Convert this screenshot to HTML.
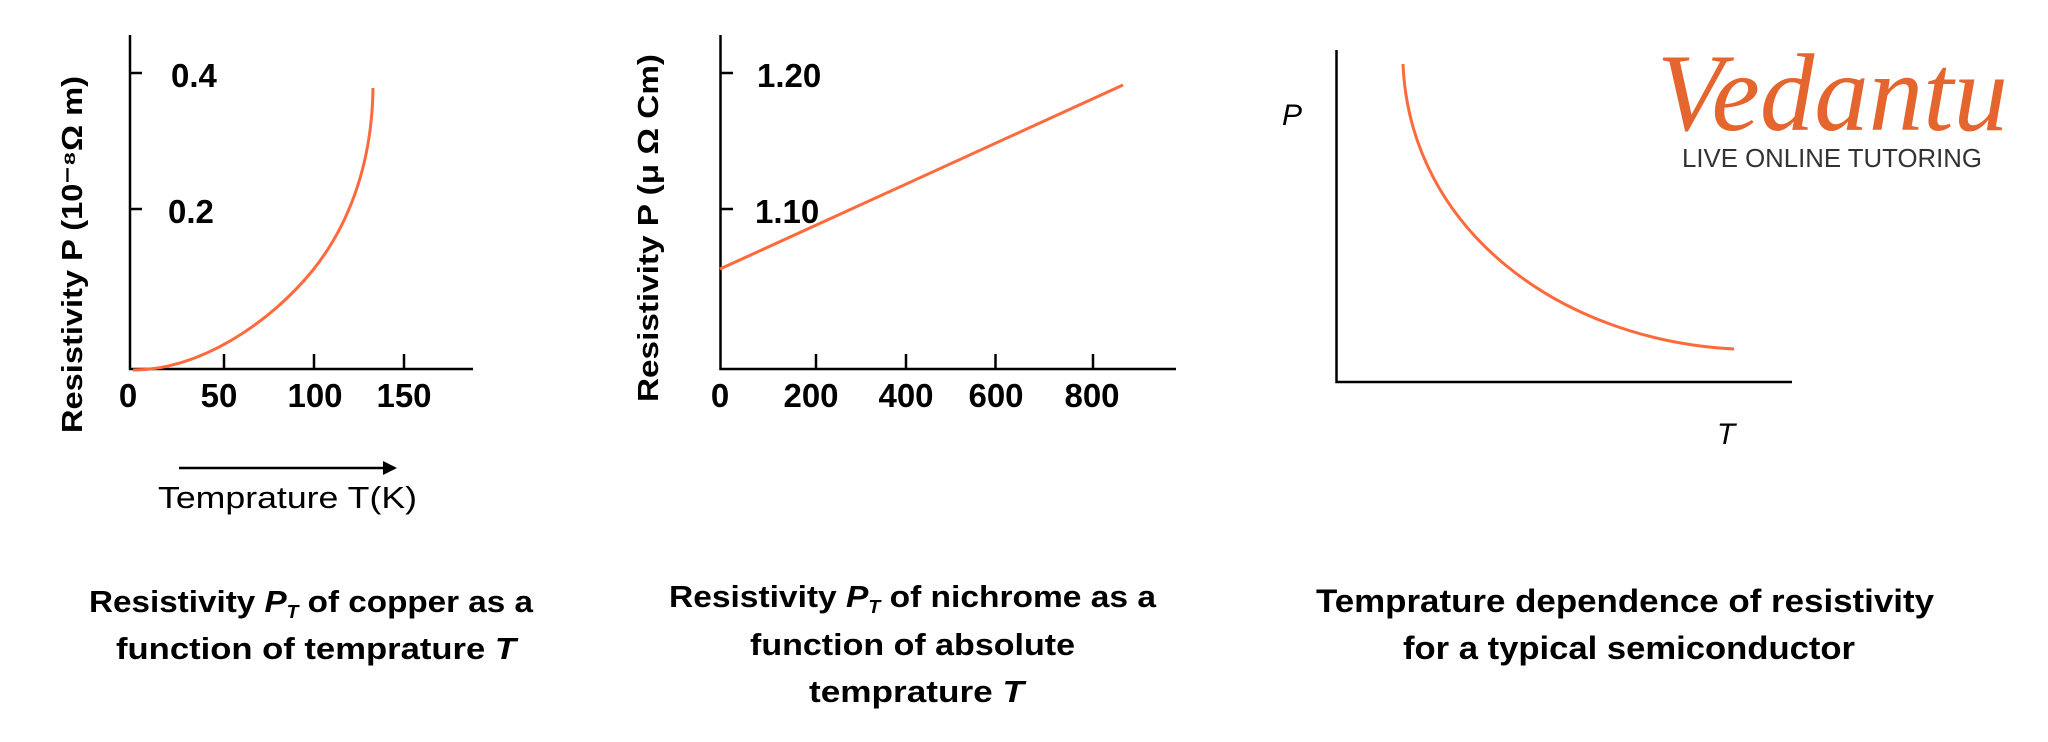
<!DOCTYPE html>
<html><head><meta charset="utf-8"><style>html,body{margin:0;padding:0;background:#fff;}svg{display:block}</style></head>
<body>
<svg width="2048" height="742" viewBox="0 0 2048 742" xmlns="http://www.w3.org/2000/svg" font-family="Liberation Sans, sans-serif">
<rect width="2048" height="742" fill="#fff"/>
<!-- Chart 1 -->
<g stroke="#000" stroke-width="2.5" fill="none">
<path d="M130 35 V369 H473"/>
<path d="M130 73 H142 M130 209 H142 M224 369 V354 M314 369 V354 M404 369 V354"/>
</g>
<path d="M133 370 C200 370 270 323 313 270 C345 230 372 170 373 88" fill="none" stroke="#ff6a3d" stroke-width="3"/>
<g font-weight="bold" font-size="33" fill="#000">
<text x="171" y="87">0.4</text>
<text x="168" y="223">0.2</text>
<text x="128" y="407" text-anchor="middle">0</text>
<text x="219" y="407" text-anchor="middle">50</text>
<text x="315" y="407" text-anchor="middle">100</text>
<text x="404" y="407" text-anchor="middle">150</text>
</g>
<text transform="translate(82 433) rotate(-90)" font-weight="bold" font-size="29" textLength="357" lengthAdjust="spacingAndGlyphs">Resistivity P (10⁻⁸Ω m)</text>
<path d="M179 468 H385" stroke="#000" stroke-width="2.5"/>
<path d="M383 461 L397 468 L383 475 Z" fill="#000"/>
<text x="158" y="508" font-size="31" textLength="259" lengthAdjust="spacingAndGlyphs">Temprature T(K)</text>
<g font-weight="bold" font-size="31" fill="#000">
<text x="89" y="612" textLength="444" lengthAdjust="spacingAndGlyphs">Resistivity <tspan font-style="italic">P</tspan><tspan font-style="italic" font-size="18" dy="6">T</tspan><tspan dy="-6"> of copper as a</tspan></text>
<text x="116" y="659" textLength="400" lengthAdjust="spacingAndGlyphs">function of temprature <tspan font-style="italic">T</tspan></text>
</g>
<!-- Chart 2 -->
<g stroke="#000" stroke-width="2.5" fill="none">
<path d="M720.5 35 V369 H1176"/>
<path d="M720.5 73 H733 M720.5 209 H733 M816 369 V354 M906 369 V354 M995.5 369 V354 M1093 369 V354"/>
</g>
<path d="M720 269 L1123 85" stroke="#ff6a3d" stroke-width="3"/>
<g font-weight="bold" font-size="33" fill="#000">
<text x="757" y="87">1.20</text>
<text x="755" y="223">1.10</text>
<text x="720" y="407" text-anchor="middle">0</text>
<text x="811" y="407" text-anchor="middle">200</text>
<text x="906" y="407" text-anchor="middle">400</text>
<text x="996" y="407" text-anchor="middle">600</text>
<text x="1092" y="407" text-anchor="middle">800</text>
</g>
<text transform="translate(658 402) rotate(-90)" font-weight="bold" font-size="29" textLength="348" lengthAdjust="spacingAndGlyphs">Resistivity P (μ Ω Cm)</text>
<g font-weight="bold" font-size="31" fill="#000">
<text x="669" y="607" textLength="487" lengthAdjust="spacingAndGlyphs">Resistivity <tspan font-style="italic">P</tspan><tspan font-style="italic" font-size="18" dy="6">T</tspan><tspan dy="-6"> of nichrome as a</tspan></text>
<text x="750" y="655" textLength="325" lengthAdjust="spacingAndGlyphs">function of absolute</text>
<text x="809" y="702" textLength="215" lengthAdjust="spacingAndGlyphs">temprature <tspan font-style="italic">T</tspan></text>
</g>
<!-- Chart 3 -->
<path d="M1336.5 50 V382 H1792" stroke="#000" stroke-width="2.5" fill="none"/>
<path d="M1403 64 C1410 230 1560 340 1734 349" fill="none" stroke="#ff6a3d" stroke-width="3"/>
<text x="1292" y="125" font-size="30" font-style="italic" text-anchor="middle">P</text>
<text x="1726" y="444" font-size="30" font-style="italic" text-anchor="middle">T</text>
<g font-weight="bold" font-size="32" fill="#000">
<text x="1316" y="612" textLength="618" lengthAdjust="spacingAndGlyphs">Temprature dependence of resistivity</text>
<text x="1403" y="659" textLength="452" lengthAdjust="spacingAndGlyphs">for a typical semiconductor</text>
</g>
<!-- Logo -->
<text x="1657" y="130" font-size="110" fill="#e5652e" textLength="351" lengthAdjust="spacingAndGlyphs" font-family="Liberation Serif, serif" font-style="italic">Vedantu</text>
<text x="1682" y="167" font-size="26" fill="#333" textLength="300" lengthAdjust="spacingAndGlyphs">LIVE ONLINE TUTORING</text>
</svg>
</body></html>
